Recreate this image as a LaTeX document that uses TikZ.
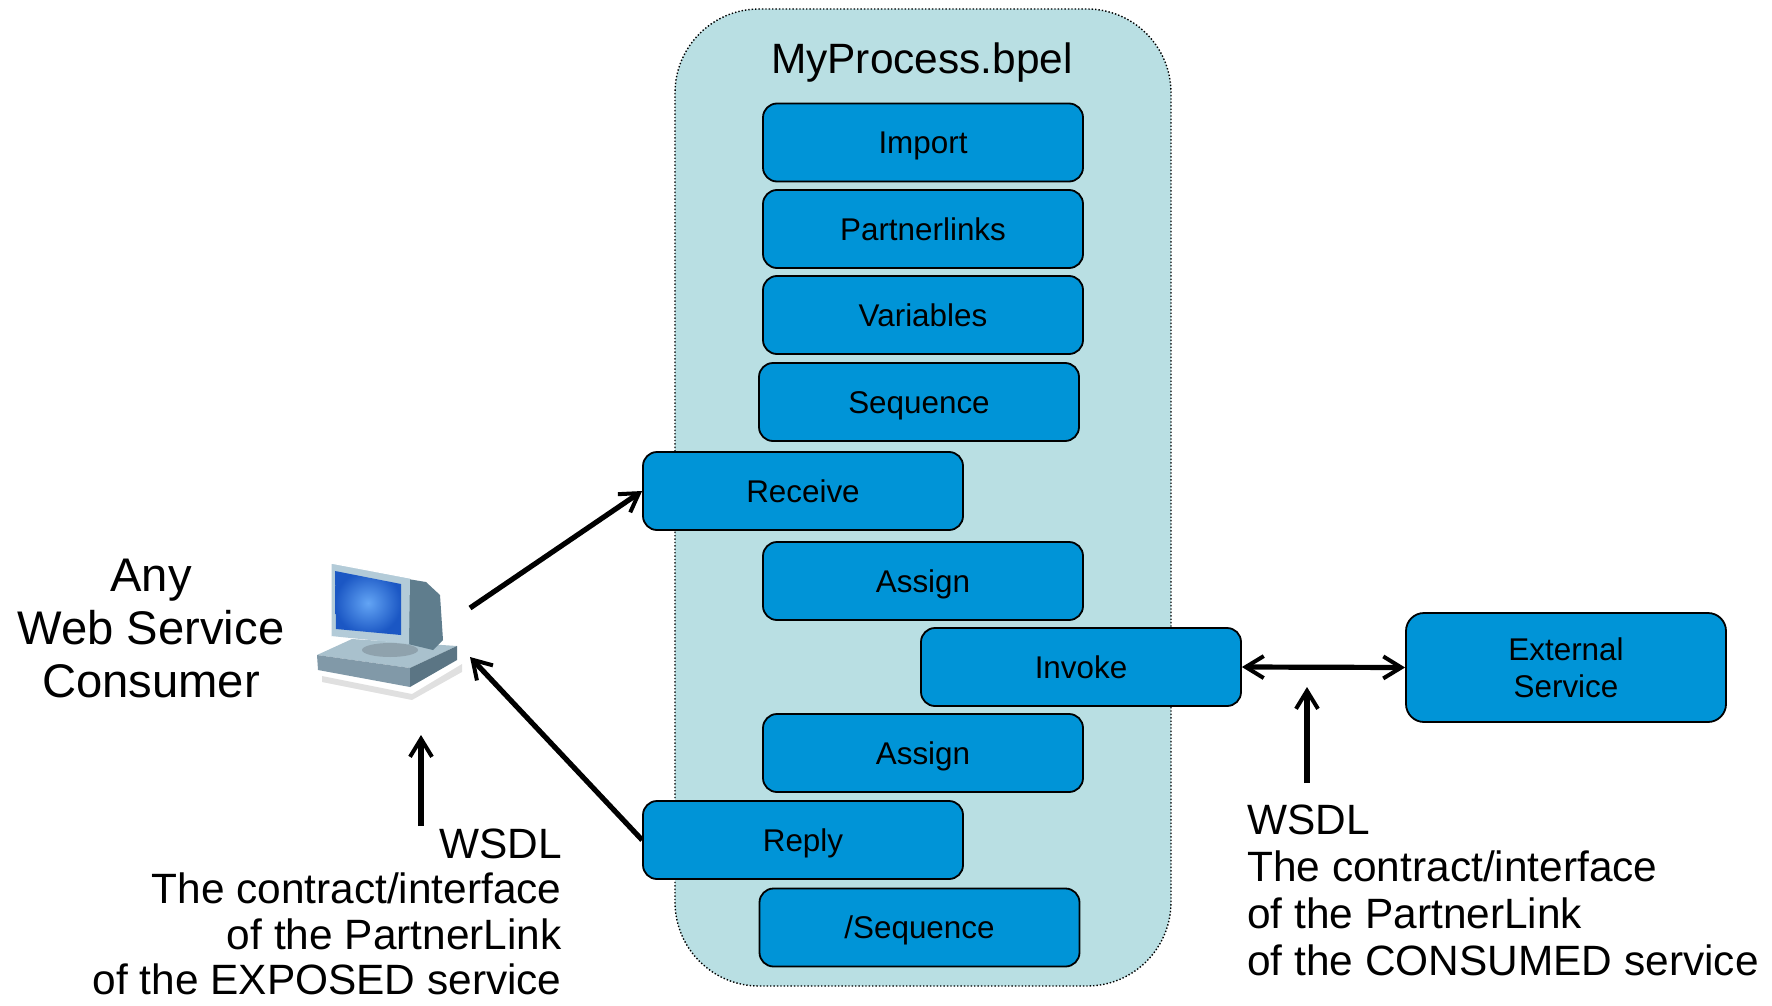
\documentclass[tikz,border=0pt]{standalone}
\usepackage{fontspec}
\setmainfont{Liberation Sans}
\usetikzlibrary{positioning,arrows.meta}
\definecolor{procbg}{HTML}{B9DFE3}
\definecolor{actblue}{HTML}{0094D7}
\definecolor{pcframe}{HTML}{B3CBD8}
\definecolor{pcscreen}{HTML}{3C8EF2}
\definecolor{pcscreendark}{HTML}{1B57C4}
\definecolor{pcback}{HTML}{5F7D8D}
\definecolor{pcbase}{HTML}{A9C1CD}
\definecolor{pcbasefront}{HTML}{8199A8}
\definecolor{pcbaseside}{HTML}{5B7584}
\tikzset{
  activity/.style={draw, rounded corners=7pt, line width=0.9pt, fill=actblue, minimum width=160pt, minimum height=39pt, align=center, font=\fontsize{15.7}{18.5}\selectfont, text height=11.3pt, text depth=0pt},
  service/.style={draw, rounded corners=9pt, line width=0.9pt, fill=actblue, minimum width=160pt, minimum height=54.5pt, align=center, font=\fontsize{15.7}{18.5}\selectfont},
  process/.style={draw, densely dotted, line width=0.7pt, fill=procbg, rounded corners=42pt},
  note/.style={inner sep=0pt, font=\fontsize{21.2}{23.5}\selectfont},
  arrow/.style={->, >={Straight Barb[length=9pt,width=11pt,line width=2pt]}, line width=2.6pt}
}

\begin{document}
\begin{tikzpicture}[x=0.5pt, y=-0.5pt]
  \useasboundingbox (0,0) rectangle (1772,1006);

  % the process container
  \draw[process] (675,9) rectangle (1171,986);
  \node[anchor=base, font=\fontsize{21.2}{25}\selectfont] (title) at (922,74) {MyProcess.bpel};

  \node[activity] (import) at (923,142.5) {Import};
  \node[activity] (partners) at (923,229) {Partnerlinks};
  \node[activity] (variables) at (923,315) {Variables};
  \node[activity] (sequence) at (919,402) {Sequence};
  \node[activity] (receive) at (803,491) {Receive};
  \node[activity] (assign) at (923,581) {Assign};
  \node[activity] (invoke) at (1081,667) {Invoke};
  \node[activity] (assigntwo) at (923,753) {Assign};
  \node[activity] (reply) at (803,840) {Reply};
  \node[activity] (endsequence) at (919.5,927.5) {/Sequence};

  \node[service] (external) at (1566,667.5) {External\\Service};

  % consumer workstation
  \fill[black!12] (322,676) -- (412,694) -- (462,664) -- (462,672) -- (412,700) -- (322,682) -- cycle;
  \fill[pcbase] (317,655) -- (352,639) -- (457,646) -- (410,668) -- cycle;
  \fill[pcbasefront] (317,655) -- (410,668) -- (410,687) -- (318,670) -- cycle;
  \fill[pcbaseside] (410,668) -- (457,646) -- (457,660) -- (410,687) -- cycle;
  \fill[pcframe!80!black] (390,650) ellipse [x radius=28, y radius=7];
  \fill[pcback] (408,579) -- (426,582) -- (440,595) -- (443,640) -- (433,650) -- (408,644) -- cycle;
  \fill[pcframe] (331,563) -- (410,578) -- (409,644) -- (331,636) -- cycle;
  \draw[white, line width=0.6pt] (331,636) -- (331,563) -- (410,578);
  \shade[inner color=pcscreen!80!white, outer color=pcscreendark] (335,571) -- (401,584) -- (401,635) -- (336,629) -- cycle;
  \coordinate (pcout) at (470,608);
  \coordinate (pcin) at (470,657);

  \node[anchor=north, align=center, inner sep=0pt, font=\fontsize{23.6}{26.5}\selectfont] (consumer) at (151,559) {Any\\Web Service\\Consumer};

  \node[note, anchor=north east, align=right, font=\fontsize{21.2}{22.8}\selectfont] (exposed) at (562,828) {WSDL\\The contract/interface\\of the PartnerLink\\of the EXPOSED service};
  \node[note, anchor=north west, align=left] (consumed) at (1247,804) {WSDL\\The contract/interface\\of the PartnerLink\\of the CONSUMED service};

  \draw[arrow] (pcout) -- (receive.west);
  \draw[arrow] (reply.west) -- (pcin);
  \draw[arrow, <->] (invoke.east) -- (external.west);

  \coordinate (exposedfoot) at (421,826);
  \coordinate (exposedtip) at (421,735);
  \coordinate (consumedfoot) at (1307,783);
  \coordinate (consumedtip) at (1307,687);
  \draw[arrow] (exposedfoot) -- (exposedtip);
  \draw[arrow] (consumedfoot) -- (consumedtip);
\end{tikzpicture}
\end{document}
